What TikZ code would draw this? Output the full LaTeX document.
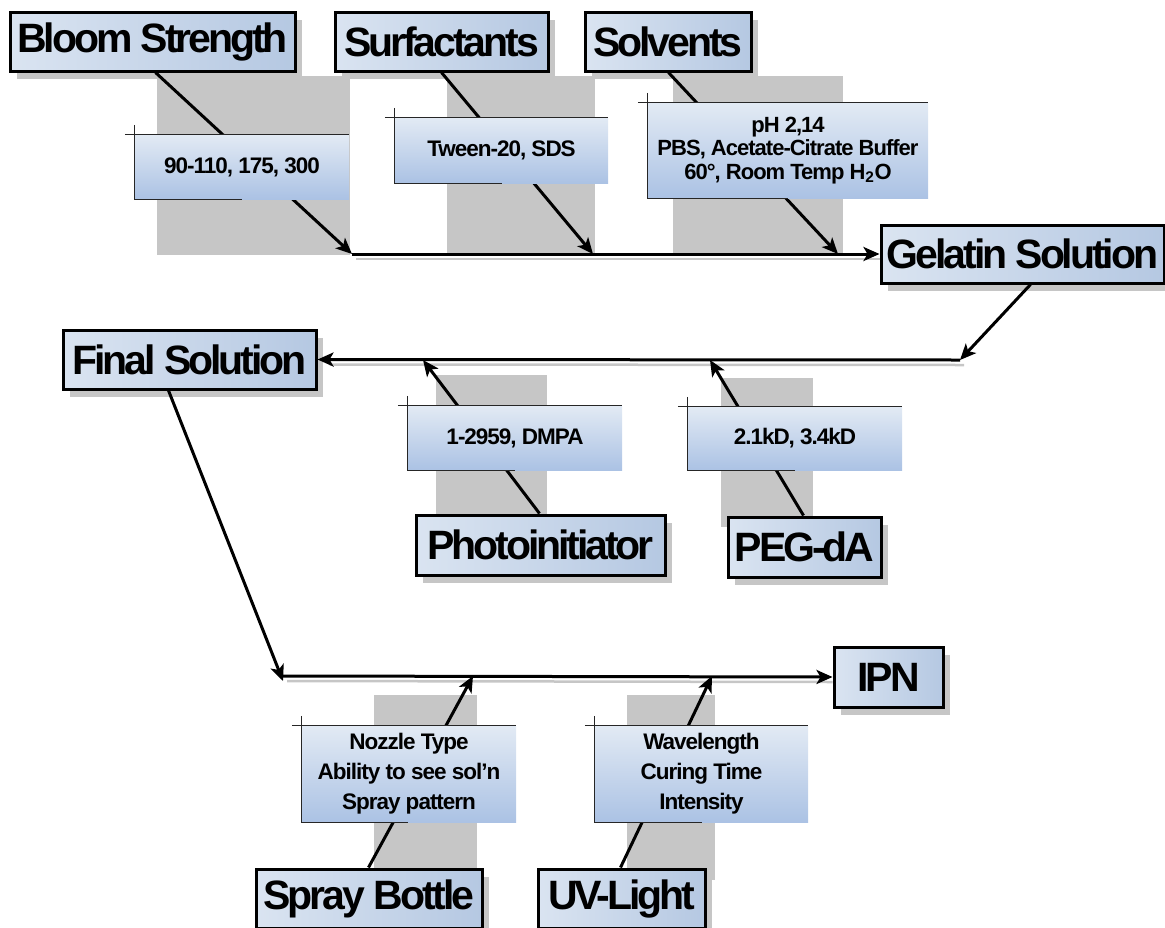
\documentclass[tikz,border=0pt]{standalone}
\usepackage{fontspec}
\setmainfont{Liberation Sans}
\newfontfamily\bigf{Liberation Sans}[LetterSpace=-7.5]
\newfontfamily\smf{Liberation Sans}[LetterSpace=-4.5]
\usetikzlibrary{arrows.meta,shadows}
\definecolor{mbl}{HTML}{DAE4F1}
\definecolor{mbr}{HTML}{B5C8E2}
\definecolor{lbt}{HTML}{E2EAF4}
\definecolor{lbb}{HTML}{ABC2E4}
\definecolor{shd}{HTML}{C6C6C6}
\tikzset{
  mainbox/.style={draw=black, line width=3pt, left color=mbl, right color=mbr,
    inner sep=0pt, font={\bigf\bfseries\fontsize{41}{44}\selectfont},
    drop shadow={shadow xshift=7pt, shadow yshift=-8pt, fill=shd, opacity=1}},
  labbox/.style={top color=lbt, bottom color=lbb, inner sep=0pt, align=center,
    font={\smf\bfseries\fontsize{22.5}{30}\selectfont}},
  graybox/.style={fill=shd, draw=none},
  arr/.style={line width=3pt, -{Stealth[length=16pt,width=14pt,inset=4pt]}},
  conn/.style={line width=3pt},
  lshadow/.style={line width=2.5pt, shd},
  deco/.style={line width=1.3pt, black!85}
}
\newcommand\labdeco[2]{%
  \draw[deco] ([xshift=-10pt]#1.north west) -- (#1.north east);
  \draw[deco] ([yshift=10pt]#1.north west) -- (#1.south west) -- ++(#2,0);}
\begin{document}
\begin{tikzpicture}[x=1pt,y=-1pt]
\useasboundingbox (0,0) rectangle (1165,927);
% gray shaded areas
\fill[graybox] (157,76) rectangle (350,255);
\fill[graybox] (447,76) rectangle (595,255);
\fill[graybox] (673,76) rectangle (843,255);
\fill[graybox] (436,375) rectangle (547,520);
\fill[graybox] (721,378) rectangle (813,527);
\fill[graybox] (374,695) rectangle (477,869);
\fill[graybox] (627,695) rectangle (715,880);
% main boxes
\node[mainbox, minimum width=285pt, minimum height=59pt] (bloom) at (152.5,41.5) {Bloom Strength};
\node[mainbox, minimum width=213pt, minimum height=59pt] (surf) at (441.5,41.5) {Surfactants};
\node[mainbox, minimum width=166pt, minimum height=59pt] (solv) at (668,41.5) {Solvents};
\node[mainbox, minimum width=283pt, minimum height=58pt] (gel) at (1022.5,254) {Gelatin Solution};
\node[mainbox, minimum width=253pt, minimum height=59pt] (final) at (189.5,359.5) {Final Solution};
\node[mainbox, minimum width=249pt, minimum height=60pt] (photo) at (540.5,545) {Photoinitiator};
\node[mainbox, minimum width=153pt, minimum height=60pt] (peg) at (804.5,547) {PEG-dA};
\node[mainbox, minimum width=109pt, minimum height=60pt] (ipn) at (888.5,677) {IPN};
\node[mainbox, minimum width=226pt, minimum height=59pt] (spray) at (369,898.5) {Spray Bottle};
\node[mainbox, minimum width=167pt, minimum height=59pt] (uv) at (621.5,898.5) {UV-Light};
% junction points
\coordinate (t1) at (352,254);
\coordinate (t2) at (593,254);
\coordinate (t3) at (838,254);
\coordinate (m0) at (960,360);
\coordinate (m1) at (423,360);
\coordinate (m2) at (710,360);
\coordinate (n0) at (283,676);
\coordinate (n1) at (473,676);
\coordinate (n2) at (712,676);
\coordinate (n0a) at (283,681);
% line shadows
\draw[lshadow] ([shift={(4pt,-5pt)}]t1) -- ([yshift=-5pt]gel.west);
\draw[lshadow] ([shift={(12pt,-5pt)}]final.east) -- ([shift={(4pt,-5pt)}]m0);
\draw[lshadow] ([shift={(4pt,-5pt)}]n0) -- ([yshift=-5pt]ipn.west);
% connectors
\draw[arr] ([xshift=147pt]bloom.south west) -- (t1);
\draw[arr] ([xshift=108pt]surf.south west) -- (t2);
\draw[arr] ([xshift=85pt]solv.south west) -- (t3);
\draw[arr] (t1) -- (gel.west);
\draw[arr] ([xshift=151pt]gel.south west) -- (m0);
\draw[arr] (m0) -- (final.east);
\draw[arr] ([xshift=125pt]photo.north west) -- (m1);
\draw[arr] ([xshift=77pt]peg.north west) -- (m2);
\draw[arr] ([xshift=107pt]final.south west) -- (n0a);
\draw[arr] (n0) -- (ipn.west);
\draw[arr] ([xshift=114pt]spray.north west) -- (n1);
\draw[arr] ([xshift=84pt]uv.north west) -- (n2);
% labels
\node[labbox, minimum width=214pt, minimum height=64pt] (l1) at (242,167) {90-110, 175, 300};
\node[labbox, minimum width=213pt, minimum height=65pt] (l2) at (501.5,150.5) {Tween-20, SDS};
\node[labbox, minimum width=280pt, minimum height=95pt, font={\smf\bfseries\fontsize{22}{23.3}\selectfont}] (l3) at (788,150.5) {pH 2,14\\PBS, Acetate-Citrate Buffer\\60°, Room Temp H\textsubscript{2}O};
\node[labbox, minimum width=214pt, minimum height=64pt] (l4) at (515,438) {1-2959, DMPA};
\node[labbox, minimum width=214pt, minimum height=63pt] (l5) at (795,438.5) {2.1kD, 3.4kD};
\node[labbox, minimum width=214pt, minimum height=96pt] (l6) at (409,774) {Nozzle Type\\Ability to see sol’n\\Spray pattern};
\node[labbox, minimum width=213pt, minimum height=96pt] (l7) at (701.5,774) {Wavelength\\Curing Time\\Intensity};
\labdeco{l1}{107}
\labdeco{l2}{107}
\labdeco{l3}{140}
\labdeco{l4}{107}
\labdeco{l5}{107}
\labdeco{l6}{106}
\labdeco{l7}{107}
\end{tikzpicture}
\end{document}
